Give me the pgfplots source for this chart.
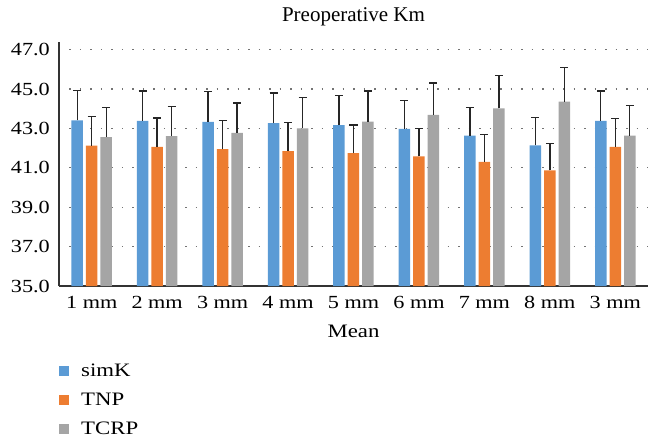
\documentclass[border=0pt]{standalone}
\usepackage{fontspec}
\setmainfont{Liberation Serif}
\newfontfamily\sfont{Liberation Serif}[FakeStretch=1.2]
\usepackage{pgfplots}
\pgfplotsset{compat=1.18}
\definecolor{cblue}{HTML}{5B9BD5}
\definecolor{corange}{HTML}{ED7D31}
\definecolor{cgray}{HTML}{A5A5A5}
\pgfplotstableread{
x y e
0 43.41 1.52
1 43.38 1.52
2 43.33 1.54
3 43.27 1.53
4 43.17 1.49
5 42.97 1.46
6 42.63 1.44
7 42.14 1.42
8 43.38 1.52
}\simK
\pgfplotstableread{
x y e
0 42.13 1.48
1 42.06 1.47
2 41.95 1.46
3 41.85 1.46
4 41.75 1.42
5 41.58 1.41
6 41.30 1.38
7 40.87 1.37
8 42.06 1.45
}\TNP
\pgfplotstableread{
x y e
0 42.56 1.51
1 42.61 1.51
2 42.77 1.52
3 43.00 1.56
4 43.34 1.56
5 43.68 1.62
6 44.02 1.66
7 44.36 1.73
8 42.63 1.53
}\TCRP
\begin{document}
\begin{tikzpicture}
\path[use as bounding box] (-59bp,-161bp) rectangle (604bp,286bp);
\begin{axis}[
  at={(0,0)}, anchor=south west,
  scale only axis, width=589bp, height=244.3bp,
  xmin=-0.5, xmax=8.5, ymin=35, ymax=47.4,
  axis x line*=bottom, axis y line*=left,
  axis line style={line width=1.3bp, color=black!80, -},
  xtick={0,...,8},
  xticklabels={1 mm,2 mm,3 mm,4 mm,5 mm,6 mm,7 mm,8 mm,3 mm},
  ytick={35,37,...,47},
  major tick length=0pt,
  ymajorgrids,
  grid style={dash pattern=on 1.5bp off 9bp, line width=1.2bp, color=black!55},
  yticklabel={\pgfmathprintnumber[fixed,fixed zerofill,precision=1,assume math mode=true]{\tick}},
  yticklabel style={font=\sfont\fontsize{18.5bp}{20bp}\selectfont, anchor=east, inner sep=0pt, xshift=-9bp},
  xticklabel style={font=\sfont\fontsize{18.5bp}{20bp}\selectfont, anchor=base, inner sep=0pt, yshift=-22.5bp},
  title={Preoperative Km},
  title style={font=\fontsize{21bp}{24bp}\selectfont, anchor=base, at={(axis description cs:0.5,1)}, yshift=14.5bp, inner sep=0pt},
  xlabel={Mean},
  xlabel style={font=\sfont\fontsize{19bp}{20bp}\selectfont, anchor=base, at={(axis description cs:0.5,0)}, yshift=-51bp, inner sep=0pt},
  ybar=3bp, bar width=11.5bp,
  error bars/y dir=plus, error bars/y explicit,
  error bars/error bar style={line width=1.4bp, color=black!85},
  error bars/error mark=|,
  error bars/error mark options={mark size=4bp, line width=1.4bp, color=black!85},
  legend style={draw=none, fill=none, at={(axis description cs:0,0)}, anchor=north west,
    xshift=-3bp, yshift=-76bp, font=\sfont\fontsize{19bp}{20bp}\selectfont, row sep=15bp, column sep=12bp,
    nodes={inner sep=0pt}},
  legend cell align=left,
]
\addplot[fill=cblue, draw=none, legend image code/.code={\fill[cblue] (0bp,-5bp) rectangle (10bp,5bp);}]
  table[x=x, y=y, y error=e] {\simK};
\addlegendentry{simK}
\addplot[fill=corange, draw=none, legend image code/.code={\fill[corange] (0bp,-5bp) rectangle (10bp,5bp);}]
  table[x=x, y=y, y error=e] {\TNP};
\addlegendentry{TNP}
\addplot[fill=cgray, draw=none, legend image code/.code={\fill[cgray] (0bp,-5bp) rectangle (10bp,5bp);}]
  table[x=x, y=y, y error=e] {\TCRP};
\addlegendentry{TCRP}
\end{axis}
\end{tikzpicture}
\end{document}
